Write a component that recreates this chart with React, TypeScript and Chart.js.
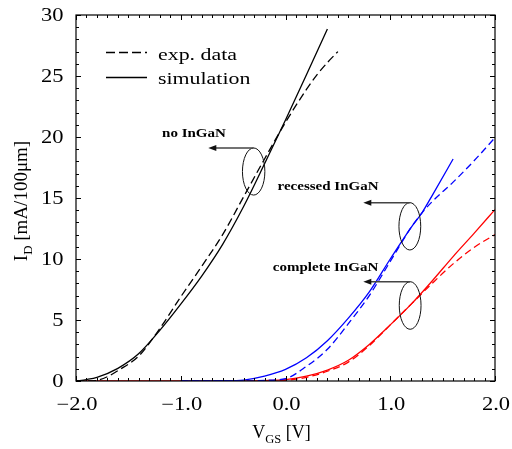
import React, { useEffect, useRef } from "react";
import { Chart, registerables } from "chart.js";

Chart.register(...registerables);

// ---- data (V_GS in V, I_D in mA/100µm) ----
const vgsNoSim = [-2.0, -1.9, -1.8, -1.6, -1.4, -1.2, -1.0, -0.8, -0.6, -0.4, -0.2, 0.0, 0.2, 0.4];
const idNoSim = [0.0, 0.12, 0.3, 1.04, 2.25, 4.15, 6.3, 8.6, 11.2, 14.3, 17.8, 21.4, 25.1, 28.85];
const vgsNoExp = [-2.0, -1.9, -1.8, -1.7, -1.6, -1.4, -1.2, -1.0, -0.8, -0.6, -0.4, -0.2, 0.0, 0.2, 0.3, 0.4, 0.5];
const idNoExp = [0.0, 0.0, 0.05, 0.35, 0.85, 2.05, 4.3, 6.9, 9.4, 12.0, 15.1, 18.2, 21.2, 23.9, 25.1, 26.1, 27.0];

const vgsRecSim = [-1.0, -0.6, -0.4, -0.2, 0.0, 0.2, 0.4, 0.6, 0.8, 1.0, 1.2, 1.3, 1.4, 1.6];
const idRecSim = [0.0, 0.02, 0.08, 0.4, 0.95, 1.9, 3.3, 5.15, 7.3, 10.0, 12.6, 13.75, 15.2, 18.2];
const vgsRecExp = [-1.0, -0.4, -0.2, 0.0, 0.2, 0.4, 0.6, 0.8, 1.0, 1.2, 1.3, 1.4, 1.6, 1.8, 2.0];
const idRecExp = [0.0, 0.0, 0.05, 0.2, 1.2, 2.6, 4.7, 7.0, 9.8, 12.6, 13.75, 14.7, 16.3, 18.05, 19.95];

const vgsComSim = [-2.0, -0.4, -0.2, 0.0, 0.2, 0.4, 0.6, 0.8, 1.0, 1.2, 1.4, 1.6, 1.8, 2.0];
const idComSim = [0.0, 0.0, 0.03, 0.12, 0.4, 0.9, 1.7, 3.0, 4.6, 6.3, 8.2, 10.2, 12.1, 14.05];
const vgsComExp = [-1.0, -0.2, 0.0, 0.2, 0.4, 0.6, 0.8, 1.0, 1.2, 1.4, 1.6, 1.8, 2.0];
const idComExp = [0.0, 0.0, 0.05, 0.3, 0.8, 1.55, 2.9, 4.6, 6.3, 8.0, 9.6, 10.95, 12.0];

const xTickValues = [-2, -1, 0, 1, 2];
const xTickLabels = ["\u22122.0", "\u22121.0", "0.0", "1.0", "2.0"];
const yTickValues = [0, 5, 10, 15, 20, 25, 30];
const yTickLabels = ["0", "5", "10", "15", "20", "25", "30"];
const legendLabels = ["exp. data", "simulation"];

// annotation groups: label + ellipse around the curve pair + arrow to the label
const groupLabels = ["no InGaN", "recessed InGaN", "complete InGaN"];
const groupLabelX = [-0.874, 0.406, 0.382];
const groupLabelY = [20.25, 15.9, 9.26];
const ellipseCx = [-0.304, 1.187, 1.19];
const ellipseCy = [17.17, 12.68, 6.19];
const ellipseRx = [0.107, 0.104, 0.104];
const ellipseRy = [1.93, 1.94, 1.95];
const arrowTipX = [-0.737, 0.743, 0.743];

const FONT = "'Liberation Serif', 'Times New Roman', serif";
const STRETCH = 1.25;

function pts(xs: number[], ys: number[]) {
  return xs.map((x, i) => ({ x, y: ys[i] }));
}

function stretchedText(ctx: CanvasRenderingContext2D, text: string, x: number, y: number) {
  ctx.save();
  ctx.translate(x, y);
  ctx.scale(STRETCH, 1);
  ctx.fillText(text, 0, 0);
  ctx.restore();
}

const decorPlugin = {
  id: "decor",
  afterDatasetsDraw(chart: any) {
    const ctx = chart.ctx as CanvasRenderingContext2D;
    const xs = chart.scales.x;
    const ys = chart.scales.y;
    const a = chart.chartArea;
    ctx.save();
    // box
    ctx.strokeStyle = "#000";
    ctx.lineWidth = 1.2;
    ctx.strokeRect(a.left, a.top, a.right - a.left, a.bottom - a.top);
    // ticks (inside, all four sides)
    ctx.lineWidth = 1;
    ctx.beginPath();
    for (let i = 0; i <= 40; i++) {
      const v = -2 + i * 0.1;
      const px = Math.round(xs.getPixelForValue(v)) + 0.5;
      const len = i % 10 === 0 ? 5 : 3;
      ctx.moveTo(px, a.bottom);
      ctx.lineTo(px, a.bottom - len);
      ctx.moveTo(px, a.top);
      ctx.lineTo(px, a.top + len);
    }
    for (let v = 0; v <= 30; v++) {
      const py = Math.round(ys.getPixelForValue(v)) + 0.5;
      const len = v % 5 === 0 ? 5 : 3;
      ctx.moveTo(a.left, py);
      ctx.lineTo(a.left + len, py);
      ctx.moveTo(a.right, py);
      ctx.lineTo(a.right - len, py);
    }
    ctx.stroke();

    // tick labels
    ctx.fillStyle = "#000";
    ctx.font = `18px ${FONT}`;
    ctx.textBaseline = "alphabetic";
    ctx.textAlign = "center";
    xTickValues.forEach((v, i) => {
      stretchedText(ctx, xTickLabels[i], xs.getPixelForValue(v) + 1, a.bottom + 28.5);
    });
    ctx.textAlign = "right";
    yTickValues.forEach((v, i) => {
      stretchedText(ctx, yTickLabels[i], a.left - 12.5, ys.getPixelForValue(v) + 6);
    });

    // annotations
    for (let i = 0; i < groupLabels.length; i++) {
      const cx = xs.getPixelForValue(ellipseCx[i]);
      const cy = ys.getPixelForValue(ellipseCy[i]);
      const rx = xs.getPixelForValue(ellipseCx[i] + ellipseRx[i]) - cx;
      const ry = cy - ys.getPixelForValue(ellipseCy[i] + ellipseRy[i]);
      ctx.strokeStyle = "#111";
      ctx.lineWidth = 1;
      ctx.beginPath();
      ctx.ellipse(cx, cy, rx, ry, 0, 0, Math.PI * 2);
      ctx.stroke();
      // arrow from top of ellipse
      const ay = cy - ry;
      const tip = xs.getPixelForValue(arrowTipX[i]);
      ctx.strokeStyle = "#444";
      ctx.lineWidth = 1.5;
      ctx.beginPath();
      ctx.moveTo(cx, ay);
      ctx.lineTo(tip + 6, ay);
      ctx.stroke();
      ctx.fillStyle = "#111";
      ctx.beginPath();
      ctx.moveTo(tip, ay);
      ctx.lineTo(tip + 8, ay - 3);
      ctx.lineTo(tip + 8, ay + 3);
      ctx.closePath();
      ctx.fill();
      // label
      ctx.fillStyle = "#000";
      ctx.font = `bold 12px ${FONT}`;
      ctx.textAlign = "center";
      ctx.textBaseline = "middle";
      stretchedText(ctx, groupLabels[i], xs.getPixelForValue(groupLabelX[i]), ys.getPixelForValue(groupLabelY[i]));
    }

    // legend
    const lx0 = a.left + 30;
    const lx1 = a.left + 71;
    const rows = [a.top + 37.5, a.top + 62.5];
    ctx.strokeStyle = "#000";
    ctx.lineWidth = 1.3;
    for (let r = 0; r < 2; r++) {
      ctx.setLineDash(r === 0 ? [9, 4] : []);
      ctx.beginPath();
      ctx.moveTo(lx0, rows[r]);
      ctx.lineTo(lx1, rows[r]);
      ctx.stroke();
    }
    ctx.setLineDash([]);
    ctx.fillStyle = "#000";
    ctx.font = `17.5px ${FONT}`;
    ctx.textAlign = "left";
    ctx.textBaseline = "alphabetic";
    stretchedText(ctx, legendLabels[0], a.left + 82, a.top + 44.5);
    stretchedText(ctx, legendLabels[1], a.left + 82, a.top + 68.5);

    // x axis title V_GS [V]
    const main = `18px ${FONT}`;
    const sub = `12.5px ${FONT}`;
    ctx.font = main;
    const wV = ctx.measureText("V").width;
    const wRest = ctx.measureText(" [V]").width;
    ctx.font = sub;
    const wGS = ctx.measureText("GS").width;
    const total = wV + wGS + wRest;
    const x0 = (a.left + a.right) / 2 - 4 - total / 2;
    const base = 438;
    ctx.font = main;
    ctx.fillText("V", x0, base);
    ctx.font = sub;
    ctx.fillText("GS", x0 + wV, base + 5);
    ctx.font = main;
    ctx.fillText(" [V]", x0 + wV + wGS, base);

    // y axis title I_D [mA/100µm]
    ctx.save();
    ctx.translate(27, (a.top + a.bottom) / 2 + 3);
    ctx.rotate(-Math.PI / 2);
    const mainY = `19px ${FONT}`;
    const subY = `13px ${FONT}`;
    ctx.font = mainY;
    const wI = ctx.measureText("I").width;
    const wR = ctx.measureText(" [mA/100\u03bcm]").width;
    ctx.font = subY;
    const wD = ctx.measureText("D").width;
    const tot2 = wI + wD + wR;
    const s0 = -tot2 / 2;
    ctx.font = mainY;
    ctx.fillText("I", s0, 0);
    ctx.font = subY;
    ctx.fillText("D", s0 + wI, 5);
    ctx.font = mainY;
    ctx.fillText(" [mA/100\u03bcm]", s0 + wI + wD, 0);
    ctx.restore();

    ctx.restore();
  },
};

export default function App() {
  const ref = useRef<HTMLCanvasElement | null>(null);
  useEffect(() => {
    if (!ref.current) return;
    const solid = { borderWidth: 1.3, pointRadius: 0, cubicInterpolationMode: "monotone" as const, fill: false };
    const dashed = { ...solid, borderDash: [8, 4] };
    const chart = new Chart(ref.current, {
      type: "line",
      data: {
        datasets: [
          { label: "no InGaN sim", data: pts(vgsNoSim, idNoSim), borderColor: "#000", ...solid },
          { label: "no InGaN exp", data: pts(vgsNoExp, idNoExp), borderColor: "#000", ...dashed },
          { label: "recessed sim", data: pts(vgsRecSim, idRecSim), borderColor: "#0000ff", ...solid },
          { label: "recessed exp", data: pts(vgsRecExp, idRecExp), borderColor: "#0000ff", ...dashed, borderDash: [7, 4] },
          { label: "complete sim", data: pts(vgsComSim, idComSim), borderColor: "#ff0000", ...solid },
          { label: "complete exp", data: pts(vgsComExp, idComExp), borderColor: "#ff0000", ...dashed, borderDash: [7, 4] },
        ],
      },
      options: {
        animation: false,
        responsive: false,
        devicePixelRatio: 1,
        layout: { padding: { top: 15, right: 17, left: 0, bottom: 0 } },
        plugins: { legend: { display: false }, tooltip: { enabled: false } },
        scales: {
          x: {
            type: "linear",
            min: -2,
            max: 2,
            grid: { display: false, drawTicks: false },
            border: { display: false },
            ticks: { display: false, stepSize: 1 },
            afterFit: (s: any) => {
              s.height = 68;
              s.paddingLeft = 0;
              s.paddingRight = 0;
              s.paddingTop = 0;
              s.paddingBottom = 0;
            },
          },
          y: {
            type: "linear",
            min: 0,
            max: 30,
            grid: { display: false, drawTicks: false },
            border: { display: false },
            ticks: { display: false, stepSize: 5 },
            afterFit: (s: any) => {
              s.width = 76;
              s.paddingLeft = 0;
              s.paddingRight = 0;
              s.paddingTop = 0;
              s.paddingBottom = 0;
            },
          },
        },
      },
      plugins: [decorPlugin],
    });
    return () => chart.destroy();
  }, []);
  return (
    <div style={{ position: "fixed", left: 0, top: 0, width: 512, height: 449, background: "#fff" }}>
      <canvas ref={ref} width={512} height={449} style={{ width: 512, height: 449, display: "block" }} />
    </div>
  );
}
